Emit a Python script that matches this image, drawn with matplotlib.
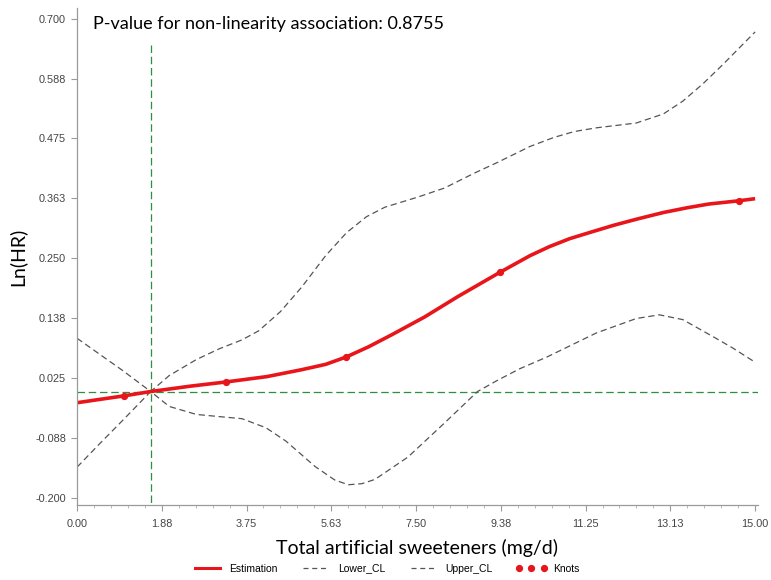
import matplotlib
matplotlib.use("Agg")
import matplotlib.pyplot as plt
from matplotlib.ticker import FixedLocator, AutoMinorLocator
from matplotlib.lines import Line2D

# Data
est_x = [0.0, 1.05, 1.63, 2.5, 3.3, 4.2, 4.97, 5.5, 5.96, 6.45, 6.95, 7.69, 8.42,
         9.36, 9.7, 10.02, 10.45, 10.9, 11.4, 11.87, 12.4, 12.97, 13.5, 13.98,
         14.64, 15.0]
est_y = [-0.021, -0.008, 0.0, 0.010, 0.018, 0.028, 0.041, 0.051, 0.065, 0.084,
         0.106, 0.140, 0.178, 0.224, 0.240, 0.255, 0.272, 0.287, 0.300, 0.312,
         0.324, 0.336, 0.345, 0.352, 0.358, 0.362]

upper_x = [0.0, 0.5, 1.0, 1.63, 2.04, 2.64, 3.14, 3.65, 4.02, 4.5, 4.97, 5.5,
           5.96, 6.4, 6.81, 7.54, 8.13, 8.79, 9.3, 10.02, 10.55, 11.0, 11.49,
           12.37, 12.97, 13.4, 13.85, 14.29, 14.65, 15.0]
upper_y = [0.100, 0.070, 0.040, 0.0, 0.030, 0.060, 0.080, 0.097, 0.114, 0.150,
           0.196, 0.255, 0.298, 0.328, 0.346, 0.365, 0.382, 0.410, 0.430, 0.460,
           0.477, 0.488, 0.495, 0.504, 0.521, 0.545, 0.578, 0.614, 0.645, 0.675]

lower_x = [0.0, 0.5, 1.0, 1.63, 2.04, 2.64, 3.14, 3.65, 4.18, 4.62, 5.27, 5.7,
           6.0, 6.3, 6.59, 7.32, 8.13, 8.86, 9.3, 9.8, 10.4, 11.49, 12.37, 12.88,
           13.4, 14.07, 14.5, 15.0]
lower_y = [-0.142, -0.098, -0.055, 0.0, -0.028, -0.043, -0.047, -0.051, -0.068,
           -0.093, -0.141, -0.166, -0.175, -0.173, -0.165, -0.123, -0.059, 0.0,
           0.021, 0.043, 0.065, 0.110, 0.137, 0.144, 0.135, 0.103, 0.082, 0.055]

knot_x = [1.05, 3.3, 5.96, 9.36, 14.64]
knot_y = [-0.008, 0.018, 0.065, 0.224, 0.358]

ref_x = 1.63
ref_y = 0.0

xticks = [0.0, 1.875, 3.75, 5.625, 7.5, 9.375, 11.25, 13.125, 15.0]
xtick_labels = ["0.00", "1.88", "3.75", "5.63", "7.50", "9.38", "11.25", "13.13", "15.00"]
yticks = [-0.2, -0.0875, 0.025, 0.1375, 0.25, 0.3625, 0.475, 0.5875, 0.7]
ytick_labels = ["-0.200", "-0.088", "0.025", "0.138", "0.250", "0.363", "0.475", "0.588", "0.700"]

p_text = "P-value for non-linearity association: 0.8755"

fig = plt.figure(figsize=(7.71, 5.80), dpi=100)
ax = fig.add_axes([0.0999, 0.1293, 0.883, 0.857])

green = "#2f8f3f"
gray = "#555555"
red = "#e8161b"

ax.axhline(ref_y, color=green, lw=0.9, dashes=(6, 3))
ax.plot([ref_x, ref_x], [-0.25, 0.65], color=green, lw=0.9, dashes=(6, 3))

ax.plot(lower_x, lower_y, color=gray, lw=0.9, dashes=(5, 3))
ax.plot(upper_x, upper_y, color=gray, lw=0.9, dashes=(5, 3))
ax.plot(est_x, est_y, color=red, lw=2.6, solid_capstyle="butt", solid_joinstyle="round")
ax.plot(knot_x, knot_y, "o", color=red, ms=4.2, ls="none")

ax.set_xlim(0.0, 15.06)
ax.set_ylim(-0.213, 0.72)

ax.xaxis.set_major_locator(FixedLocator(xticks))
ax.set_xticklabels(xtick_labels)
ax.xaxis.set_minor_locator(AutoMinorLocator(5))
ax.yaxis.set_major_locator(FixedLocator(yticks))
ax.set_yticklabels(ytick_labels)

for s in ["top", "right"]:
    ax.spines[s].set_visible(False)
for s in ["left", "bottom"]:
    ax.spines[s].set_color("#9a9a9a")
    ax.spines[s].set_linewidth(0.9)

ax.tick_params(which="major", length=4, color="#9a9a9a", labelsize=7.8,
               labelcolor="#444444", pad=4)
ax.tick_params(axis="x", which="major", pad=6)
ax.tick_params(which="minor", length=2.5, color="#b0b0b0")
for lab in ax.get_xticklabels() + ax.get_yticklabels():
    lab.set_family(["Liberation Sans", "DejaVu Sans"])

ax.set_xlabel("Total artificial sweeteners (mg/d)", family=["Lato", "DejaVu Sans"],
              fontsize=14, labelpad=7)
ax.set_ylabel("Ln(HR)", family=["Lato", "DejaVu Sans"], fontsize=14, labelpad=6)

ax.text(0.35, 0.69, p_text, family=["Lato", "DejaVu Sans"], fontsize=13,
        va="center", ha="left")

handles = [
    Line2D([], [], color=red, lw=2.2),
    Line2D([], [], color=gray, lw=0.9, dashes=(4, 3)),
    Line2D([], [], color=gray, lw=0.9, dashes=(4, 3)),
    Line2D([], [], color=red, marker="o", ms=4.2, ls="none"),
]
labels = ["Estimation", "Lower_CL", "Upper_CL", "Knots"]
fig.legend(handles, labels, loc="lower center", bbox_to_anchor=(0.5, -0.005),
           ncol=4, frameon=False, numpoints=3, handlelength=3.0,
           columnspacing=2.2, handletextpad=0.6,
           prop={"family": ["Liberation Sans", "DejaVu Sans"], "size": 7.5})

fig.savefig("out.png", dpi=100)
